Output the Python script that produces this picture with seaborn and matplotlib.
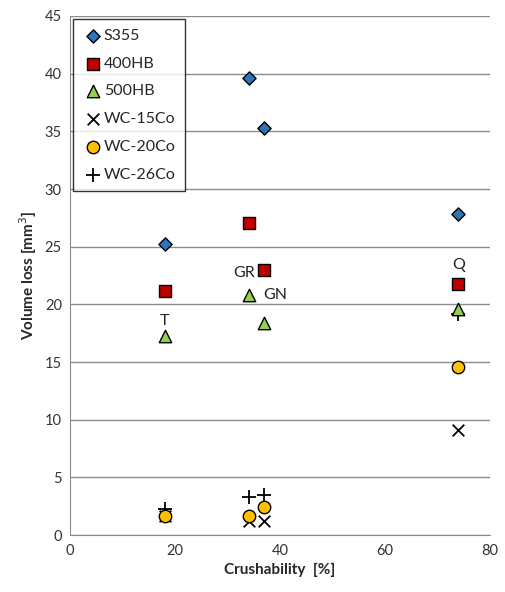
import pandas as pd
import seaborn as sns
import matplotlib.pyplot as plt

crushability = [18, 34, 37, 74]
s355 = [25.2, 39.6, 35.3, 27.8]
hb400 = [21.2, 27.1, 23.0, 21.8]
hb500 = [17.3, 20.8, 18.4, 19.6]
wc15 = [1.7, 1.2, 1.2, 9.1]
wc20 = [1.7, 1.7, 2.4, 14.6]
wc26 = [2.3, 3.3, 3.5, 19.2]

series = {
    "S355": s355,
    "400HB": hb400,
    "500HB": hb500,
    "WC-15Co": wc15,
    "WC-20Co": wc20,
    "WC-26Co": wc26,
}
styles = {
    "S355": dict(marker="D", color="#2E75B6", s=45, edgecolor="black", linewidth=1),
    "400HB": dict(marker="s", color="#C00000", s=75, edgecolor="black", linewidth=1),
    "500HB": dict(marker="^", color="#92D050", s=80, edgecolor="black", linewidth=1),
    "WC-15Co": dict(marker="x", color="black", s=70, linewidth=1.3),
    "WC-20Co": dict(marker="o", color="#FFC000", s=80, edgecolor="black", linewidth=1),
    "WC-26Co": dict(marker="+", color="black", s=90, linewidth=1.3),
}
labels = [("T", 18, 18.6), ("GR", 33.2, 22.7), ("GN", 39, 20.8), ("Q", 74, 23.4)]

rows = []
for name, vals in series.items():
    for x, y in zip(crushability, vals):
        rows.append({"Material": name, "Crushability": x, "Volume loss": y})
df = pd.DataFrame(rows)

sns.set_style("white")
plt.rcParams["font.family"] = ["Lato", "DejaVu Sans"]

fig = plt.figure(figsize=(5.05, 5.92), dpi=100)
ax = fig.add_axes([0.139, 0.096, 0.831, 0.877])

order = ["WC-15Co", "WC-26Co", "S355", "400HB", "500HB", "WC-20Co"]
for name in order:
    sub = df[df["Material"] == name]
    sns.scatterplot(data=sub, x="Crushability", y="Volume loss", ax=ax,
                    label=name, zorder=3, **styles[name])

for txt, x, y in labels:
    ax.text(x, y, txt, fontsize=11.5, ha="center", va="center", color="#222222")

ax.set_xlim(0, 80)
ax.set_ylim(0, 45)
ax.set_xticks(range(0, 81, 20))
ax.set_yticks(range(0, 46, 5))
ax.yaxis.grid(True, color="#8c8c8c", linewidth=1)
ax.xaxis.grid(False)
ax.set_axisbelow(True)
for side in ["top", "right"]:
    ax.spines[side].set_visible(False)
for side in ["left", "bottom"]:
    ax.spines[side].set_color("#8c8c8c")
ax.tick_params(labelsize=10.5, colors="#333333", length=0, pad=6)
ax.set_xlabel("Crushability  [%]", fontsize=11, fontweight="bold")
ax.set_ylabel("Volume loss [mm$^3$]", fontsize=11, fontweight="bold")

handles, hl = ax.get_legend_handles_labels()
want = list(series.keys())
hmap = dict(zip(hl, handles))
leg = ax.legend([hmap[k] for k in want], want, loc="upper left", fontsize=11.5,
                frameon=True, fancybox=False, edgecolor="black",
                borderpad=0.6, labelspacing=0.85, handletextpad=0.1,
                handlelength=1.2, borderaxespad=0.2,
                bbox_to_anchor=(0.0, 1.0))
leg.get_frame().set_linewidth(1)

fig.savefig("out.png", dpi=100)
